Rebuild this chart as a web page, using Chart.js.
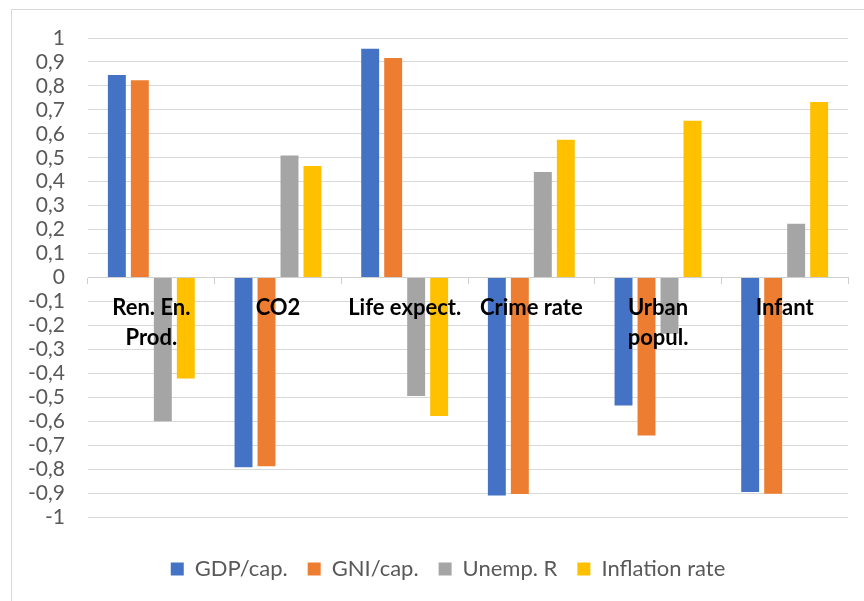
<!DOCTYPE html>
<html>
<head>
<meta charset="utf-8">
<script src="https://cdn.jsdelivr.net/npm/chart.js@4.4.1/dist/chart.umd.min.js"></script>
<style>
    html, body { margin: 0; padding: 0; background: #fff; overflow: hidden; }
    #wrap { position: relative; width: 864px; height: 601px; }
</style>
</head>
<body>
<div id="wrap"><canvas id="corr-chart"></canvas></div>
<script>
// correlation of each indicator with the four macro series
const categories = [['Ren. En.', 'Prod.'], 'CO2', 'Life expect.', 'Crime rate', ['Urban', 'popul.'], 'Infant'];
const seriesNames = ['GDP/cap.', 'GNI/cap.', 'Unemp. R', 'Inflation rate'];
const gdpPerCap = [0.846, -0.792, 0.955, -0.910, -0.534, -0.896];
const gniPerCap = [0.824, -0.788, 0.916, -0.904, -0.660, -0.903];
const unempRate = [-0.600, 0.509, -0.495, 0.440, -0.235, 0.224];
const inflationRate = [-0.422, 0.466, -0.578, 0.575, 0.655, 0.733];
const yTickLabels = ['-1', '-0,9', '-0,8', '-0,7', '-0,6', '-0,5', '-0,4', '-0,3', '-0,2', '-0,1', '0',
    '0,1', '0,2', '0,3', '0,4', '0,5', '0,6', '0,7', '0,8', '0,9', '1'];

const seriesColors = ['#4472C4', '#ED7D31', '#A5A5A5', '#FFC000'];
const seriesValues = [gdpPerCap, gniPerCap, unempRate, inflationRate];

// light frame around the whole chart, legend nudged right under the plot
const chartFrame = {
    id: 'chartFrame',
    afterLayout(chart) {
        if (chart.legend) {
            chart.legend.left += 24;
            chart.legend.right += 24;
        }
    },
    beforeDraw(chart) {
        const ctx = chart.ctx;
        ctx.save();
        ctx.fillStyle = '#ffffff';
        ctx.fillRect(0, 0, chart.width, chart.height);
        ctx.strokeStyle = '#d9d9d9';
        ctx.lineWidth = 1;
        ctx.strokeRect(11.5, 9.5, 900, 700);
        ctx.restore();
    }
};

new Chart(document.getElementById('corr-chart'), {
    type: 'bar',
    data: {
        labels: categories,
        datasets: seriesNames.map((name, i) => ({
            label: name,
            data: seriesValues[i],
            backgroundColor: seriesColors[i],
            borderWidth: 0,
            categoryPercentage: 0.726,
            barPercentage: 0.78
        }))
    },
    options: {
        responsive: true,
        maintainAspectRatio: false,
        animation: false,
        devicePixelRatio: 1,
        layout: { padding: { top: 38, left: 0, right: 16, bottom: 11 } },
        scales: {
            x: {
                position: { y: 0 },
                border: { display: true, color: '#cfcfcf', width: 1 },
                grid: {
                    offset: true,
                    drawOnChartArea: false,
                    drawTicks: true,
                    tickLength: 6,
                    color: '#cfcfcf'
                },
                ticks: {
                    z: 1, // category names sit on top of the bars
                    autoSkip: false,
                    maxRotation: 0,
                    minRotation: 0,
                    padding: 9,
                    color: '#000000',
                    font: { family: 'Lato', size: 22, weight: 'bold', lineHeight: 1.38 }
                }
            },
            y: {
                min: -1,
                max: 1,
                border: { display: false },
                grid: { color: '#d9d9d9', lineWidth: 1, drawTicks: false },
                afterFit(scale) { scale.width = 88; },
                ticks: {
                    stepSize: 0.1,
                    autoSkip: false,
                    padding: 23,
                    color: '#595959',
                    font: { family: 'Lato', size: 21 },
                    callback: (value, index) => yTickLabels[index] ?? String(value).replace('.', ',')
                }
            }
        },
        plugins: {
            tooltip: { enabled: false },
            legend: {
                position: 'bottom',
                title: { display: true, text: '', font: { size: 1, lineHeight: 1 }, padding: { top: 20, bottom: 0 } },
                labels: {
                    boxWidth: 13,
                    boxHeight: 13,
                    padding: 20,
                    color: '#595959',
                    font: { family: 'Lato', size: 22 }
                }
            }
        }
    },
    plugins: [chartFrame]
});
</script>
</body>
</html>
